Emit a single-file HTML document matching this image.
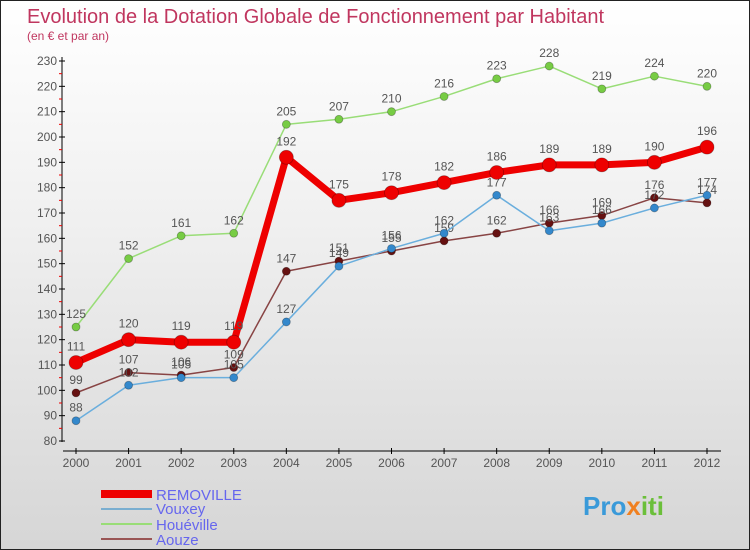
<!DOCTYPE html>
<html><head><meta charset="utf-8"><style>
body{margin:0}
#c{width:750px;height:550px;position:relative;background:linear-gradient(#ffffff,#f0f0f0 40%,#d6d6d6);box-sizing:border-box;border:1px solid #222;overflow:hidden;font-family:"Liberation Sans",sans-serif}
</style></head><body>
<div id="c">
<svg id="s" width="750" height="550" style="position:absolute;left:0;top:0">
<text x="26" y="22" font-size="20" fill="#c0365f">Evolution de la Dotation Globale de Fonctionnement par Habitant</text>
<text x="26" y="39" font-size="12" fill="#c0365f">(en € et par an)</text>
<g id="g"></g>
<g>
<rect x="100" y="489" width="51" height="8" fill="#e00"/>
<text x="155" y="499" font-size="15" fill="#6666ee">REMOVILLE</text>
<rect x="100" y="507" width="51" height="2" fill="#7aaed0"/>
<text x="155" y="513" font-size="15" fill="#6666ee">Vouxey</text>
<rect x="100" y="522" width="51" height="2" fill="#99dd77"/>
<text x="155" y="529" font-size="15" fill="#6666ee">Houéville</text>
<rect x="100" y="537" width="51" height="2" fill="#995555"/>
<text x="155" y="544" font-size="15" fill="#6666ee">Aouze</text>
</g>
<text x="582" y="514" font-size="26" font-weight="bold" fill="#3a9ad9">Pro<tspan fill="#f08020">x</tspan><tspan fill="#6bbf3a">iti</tspan></text>
</svg>
</div>
<script>
const years=[2000,2001,2002,2003,2004,2005,2006,2007,2008,2009,2010,2011,2012];
const yTicks=[80,90,100,110,120,130,140,150,160,170,180,190,200,210,220,230];
const removille=[111,120,119,119,192,175,178,182,186,189,189,190,196];
const vouxey=[88,102,105,105,127,149,156,162,177,163,166,172,177];
const houeville=[125,152,161,162,205,207,210,216,223,228,219,224,220];
const aouze=[99,107,106,109,147,151,155,159,162,166,169,176,174];
const NS="http://www.w3.org/2000/svg";
const g=document.getElementById('g');
const X=i=>75+i*(706-75)/12;
const Y=v=>440-(v-80)*380/150;
function mk(t,a,p){const e=document.createElementNS(NS,t);for(const k in a)e.setAttribute(k,a[k]);(p||g).appendChild(e);return e;}
let ax=mk('line',{x1:61,y1:56,x2:61,y2:441,stroke:'#000'});


let bx=mk('line',{x1:62,y1:450,x2:720,y2:450,stroke:'#000'});


yTicks.forEach(v=>{
 mk('line',{x1:58,y1:Y(v),x2:64,y2:Y(v),stroke:'#000'});
 if(v<230)mk('line',{x1:58,y1:Y(v+5),x2:61,y2:Y(v+5),stroke:'#e00'});
 const t=mk('text',{x:56,y:Y(v)+4,'font-size':12,fill:'#555','text-anchor':'end'});t.textContent=v;
 
 
});
years.forEach((y,i)=>{
 mk('line',{x1:X(i),y1:447,x2:X(i),y2:453,stroke:'#000'});
 const t=mk('text',{x:X(i),y:466,'font-size':12,fill:'#555','text-anchor':'middle'});t.textContent=y;
 
 
});
function series(name,data,color,w,r,dot,off){
 const s=mk('g',{});
 
 
 const p=mk('polyline',{points:data.map((v,i)=>X(i)+','+Y(v)).join(' '),fill:'none',stroke:color,'stroke-width':w,'stroke-linejoin':'round'},s);
 
 
 data.forEach((v,i)=>{
  const c=mk('circle',{cx:X(i),cy:Y(v),r:r,fill:dot,stroke:'rgba(0,0,0,0.3)','stroke-width':0.8},s);
  
  
  const t=mk('text',{x:X(i),y:Y(v)-off,'font-size':12,fill:'#555','text-anchor':'middle'},s);t.textContent=v;
  
  
 });
}
series('houeville',houeville,'#99dd77',1.5,4,'#77cc44',9);
series('aouze',aouze,'#884444',1.5,4,'#661111',9);
series('vouxey',vouxey,'#6aaedd',1.5,4,'#3388cc',9);
series('removille',removille,'#ee0000',7,7,'#ee0000',12);
</script>
</body></html>
